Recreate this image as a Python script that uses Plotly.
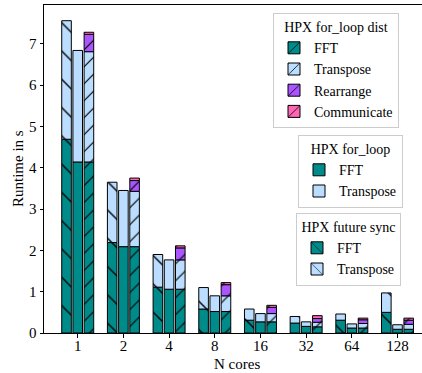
import numpy as np
import plotly.graph_objects as go

cores = ["1", "2", "4", "8", "16", "32", "64", "128"]

future_fft = [4.69, 2.19, 1.11, 0.58, 0.31, 0.24, 0.31, 0.50]
future_transpose = [2.87, 1.46, 0.79, 0.52, 0.27, 0.16, 0.15, 0.47]

loop_fft = [4.14, 2.09, 1.06, 0.52, 0.27, 0.16, 0.12, 0.09]
loop_transpose = [2.70, 1.36, 0.71, 0.38, 0.20, 0.11, 0.10, 0.11]

dist_fft = [4.14, 2.09, 1.06, 0.52, 0.27, 0.15, 0.12, 0.09]
dist_transpose = [2.67, 1.34, 0.71, 0.38, 0.20, 0.11, 0.11, 0.12]
dist_rearrange = [0.42, 0.26, 0.29, 0.27, 0.15, 0.09, 0.09, 0.10]
dist_communicate = [0.05, 0.06, 0.05, 0.05, 0.05, 0.07, 0.04, 0.05]

C_FFT = "#008b8b"
C_TRANS = "#bbddff"
C_REAR = "#aa55ff"
C_COMM = "#ff66b3"

FONT = "Liberation Serif"
W = 0.21

fig = go.Figure()


def add_stack(series, names, colors, shift, shape, size, solidity, legend):
    base = np.zeros(len(cores))
    for vals, name, col in zip(series, names, colors):
        vals = np.array(vals, dtype=float)
        marker = dict(color=col, line=dict(color="black", width=1))
        if shape:
            marker["pattern"] = dict(shape=shape, size=size, solidity=solidity,
                                     fgcolor="black", bgcolor=col, fillmode="replace")
        fig.add_trace(go.Bar(
            x=cores, y=vals, base=base.copy(), name=name,
            width=W, offset=shift - W / 2, marker=marker,
            legend=legend, showlegend=True,
        ))
        base += vals


add_stack([future_fft, future_transpose], ["FFT", "Transpose"], [C_FFT, C_TRANS],
          -0.245, "\\", 20, 0.07, "legend3")
add_stack([loop_fft, loop_transpose], ["FFT", "Transpose"], [C_FFT, C_TRANS],
          0.0, "", 0, 0, "legend2")
add_stack([dist_fft, dist_transpose, dist_rearrange, dist_communicate],
          ["FFT", "Transpose", "Rearrange", "Communicate"],
          [C_FFT, C_TRANS, C_REAR, C_COMM], 0.245, "/", 12, 0.1, "legend")

LF = dict(family=FONT, size=14, color="black")


def leg(x, y, title):
    return dict(
        x=x, y=y, xanchor="left", yanchor="top", traceorder="normal",
        bgcolor="rgba(255,255,255,0.85)", bordercolor="#cccccc", borderwidth=1,
        font=dict(LF), title=dict(text=title, side="top center", font=dict(LF)),
    )


# plot area in page pixels: x 44..422, y 5..333
def px_x(p):
    return (p - 44) / 378.0


def px_y(p):
    return (333 - p) / 328.0


fig.update_layout(
    width=422, height=373,
    margin=dict(l=44, r=0, t=5, b=40),
    paper_bgcolor="white", plot_bgcolor="white",
    barmode="overlay",
    font=dict(family=FONT, size=15, color="black"),
    showlegend=True,
    legend=leg(px_x(273), px_y(13), "HPX for_loop dist"),
    legend2=leg(px_x(298), px_y(135), "HPX for_loop"),
    legend3=leg(px_x(296), px_y(213), "HPX future sync"),
    xaxis=dict(
        type="category", range=[-0.738, 7.536],
        showline=True, linecolor="black", linewidth=1, mirror=True,
        ticks="outside", ticklen=3.5, tickcolor="black",
        showgrid=False, zeroline=False, ticklabelstandoff=-5,
        tickfont=dict(family=FONT, size=15),
    ),
    yaxis=dict(
        range=[0, 7.94], tickvals=[0, 1, 2, 3, 4, 5, 6, 7],
        showline=True, linecolor="black", linewidth=1,
        ticks="outside", ticklen=3.5, tickcolor="black",
        showgrid=False, zeroline=False,
        tickfont=dict(family=FONT, size=15),
    ),
    annotations=[
        dict(text="N cores", x=px_x(237.5), y=px_y(364), xref="paper", yref="paper",
             xanchor="center", yanchor="middle", showarrow=False,
             font=dict(family=FONT, size=15)),
        dict(text="Runtime in s", x=px_x(18), y=px_y(169), xref="paper", yref="paper",
             xanchor="center", yanchor="middle", showarrow=False, textangle=-90,
             font=dict(family=FONT, size=15)),
    ],
)

fig.write_html("out.html")
